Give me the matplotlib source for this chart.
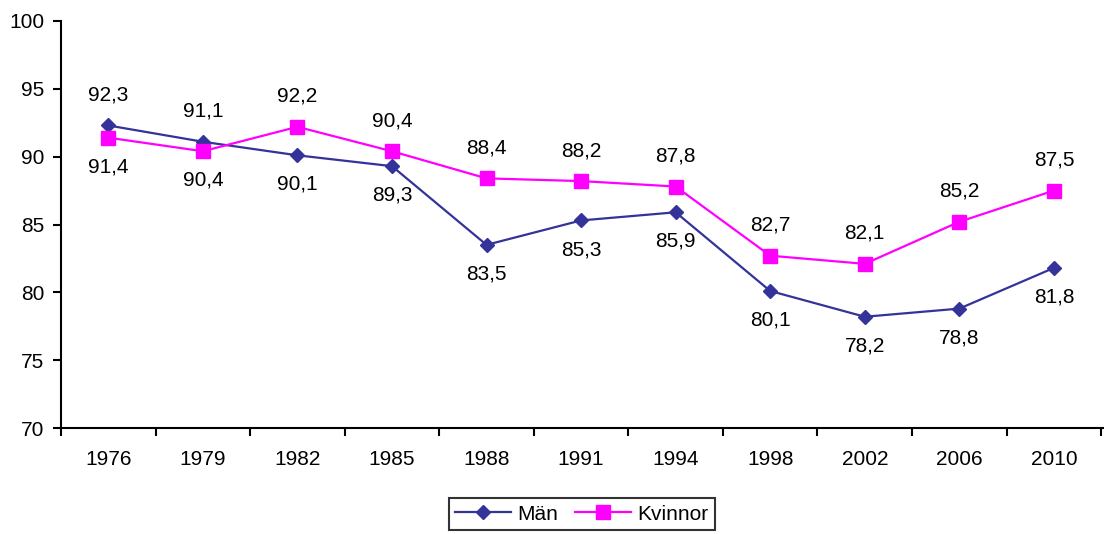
import numpy as np
import matplotlib
matplotlib.use('Agg')
import matplotlib.pyplot as plt
from matplotlib.ticker import FixedLocator

years = ['1976', '1979', '1982', '1985', '1988', '1991', '1994', '1998', '2002', '2006', '2010']
man = [92.3, 91.1, 90.1, 89.3, 83.5, 85.3, 85.9, 80.1, 78.2, 78.8, 81.8]
kvinnor = [91.4, 90.4, 92.2, 90.4, 88.4, 88.2, 87.8, 82.7, 82.1, 85.2, 87.5]

plt.rcParams['font.family'] = ['Liberation Sans', 'DejaVu Sans']
fs = 15

fig = plt.figure(figsize=(11.04, 5.34), dpi=100)
ax = fig.add_axes([61 / 1104, 106 / 534, 1043 / 1104, 407 / 534])

x = np.arange(len(years))
ax.plot(x, man, color='#333399', lw=1.6, marker='D', ms=7.5, label='Män', zorder=3)
ax.plot(x, kvinnor, color='#FF00FF', lw=1.6, marker='s', ms=10.5, label='Kvinnor', zorder=3)

# higher value gets its label above, lower below
for i in range(len(years)):
    for v, other in ((man[i], kvinnor[i]), (kvinnor[i], man[i])):
        dy = 22 if v >= other else -21
        ax.annotate(('%.1f' % v).replace('.', ','), (x[i], v), xytext=(0, dy),
                    textcoords='offset points', ha='center', va='center', fontsize=fs)

ax.set_xlim(-0.5, len(years) - 0.5 + 0.03)
ax.set_ylim(70, 100)
ax.set_yticks(np.arange(70, 101, 5))
ax.set_xticks(x)
ax.set_xticklabels(years)
ax.xaxis.set_minor_locator(FixedLocator(np.arange(-0.5, len(years), 1.0)))
ax.tick_params(axis='x', which='major', length=0, pad=16, labelsize=fs)
ax.tick_params(axis='x', which='minor', length=6, width=1.5, direction='out')
ax.tick_params(axis='y', length=6, width=1.5, direction='out', pad=6, labelsize=fs)

for s in ['top', 'right']:
    ax.spines[s].set_visible(False)
for s in ['left', 'bottom']:
    ax.spines[s].set_linewidth(1.5)

leg = fig.legend(loc='center', bbox_to_anchor=(582 / 1104, 1 - 514 / 534), ncol=2,
                 fontsize=fs, frameon=True, fancybox=False, edgecolor='black',
                 handlelength=2.7, columnspacing=0.8, handletextpad=0.3, borderpad=0.3)
leg.get_frame().set_linewidth(1.5)

fig.savefig('out.png', dpi=100)
